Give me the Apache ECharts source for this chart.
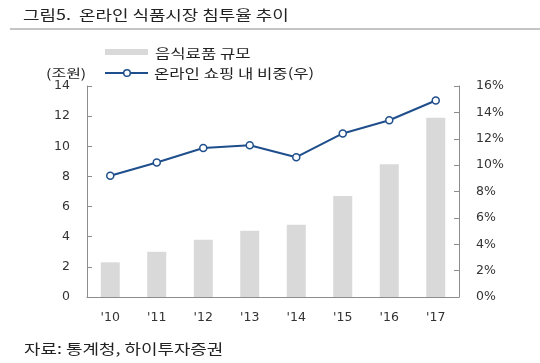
<!DOCTYPE html>
<html><head><meta charset="utf-8">
<script src="https://cdn.jsdelivr.net/npm/echarts@6/dist/echarts.min.js"></script>
<style>html,body{margin:0;padding:0;background:#fff}#c{width:540px;height:363px}</style>
</head><body><div id="c"></div>
<script>
const categories = ["'10","'11","'12","'13","'14","'15","'16","'17"];
const foodMarket = [2.3, 3.0, 3.8, 4.4, 4.8, 6.7, 8.8, 11.9];
const onlineShare = [9.2, 10.2, 11.3, 11.5, 10.6, 12.4, 13.4, 14.9];
const leftTicks = {min: 0, max: 14, interval: 2};
const rightTicks = {min: 0, max: 16, interval: 2};
const seriesNames = ['음식료품 규모', '온라인 쇼핑 내 비중(우)'];
const titleText = '그림5.  온라인 식품시장 침투율 추이';
const sourceText = '자료: 통계청, 하이투자증권';
const unitText = '(조원)';

const kfont = "'Noto Sans CJK KR', 'Noto Sans', sans-serif";
const nfont = "'DejaVu Sans', 'Noto Sans CJK KR', sans-serif";
const axisColor = '#8c8c8c';
const lineColor = '#1f4e8c';
const barColor = '#d9d9d9';
const sx = 1.28;

function label(text, x, y, size, align) {
  return {type: 'text', x: x, y: y, scaleX: sx, silent: true,
    style: {text: text, font: size + 'px ' + kfont, fill: '#222',
      textAlign: align || 'left', textVerticalAlign: 'middle'}};
}

const chart = echarts.init(document.getElementById('c'));
chart.setOption({
  animation: false,
  textStyle: {fontFamily: kfont},
  graphic: [
    label(titleText, 23, 15, 14),
    {type: 'line', shape: {x1: 10, y1: 29, x2: 540, y2: 29}, style: {stroke: '#8a8a8a', lineWidth: 1}},
    label(unitText, 46, 73, 12.5),
    label(sourceText, 24, 349, 14),
    // legend
    {type: 'rect', shape: {x: 105, y: 49, width: 43, height: 6}, style: {fill: barColor}},
    label(seriesNames[0], 155, 53, 13),
    {type: 'line', shape: {x1: 105, y1: 73, x2: 148, y2: 73}, style: {stroke: lineColor, lineWidth: 2}},
    {type: 'circle', shape: {cx: 127, cy: 73, r: 3.3}, style: {fill: '#fff', stroke: lineColor, lineWidth: 1.5}},
    label(seriesNames[1], 154, 73, 13)
  ],
  grid: {left: 87, right: 81, top: 86, bottom: 66},
  xAxis: {
    type: 'category', data: categories, boundaryGap: true,
    axisLine: {lineStyle: {color: axisColor}},
    axisTick: {inside: true, length: 4, lineStyle: {color: axisColor}},
    axisLabel: {color: '#333', fontSize: 12.5, margin: 14, fontFamily: nfont}
  },
  yAxis: [
    {
      type: 'value', min: leftTicks.min, max: leftTicks.max, interval: leftTicks.interval,
      axisLine: {show: true, lineStyle: {color: axisColor}},
      axisTick: {show: true, inside: true, length: 5, lineStyle: {color: axisColor}},
      splitLine: {show: false},
      axisLabel: {color: '#333', fontSize: 12.5, margin: 17, fontFamily: nfont}
    },
    {
      type: 'value', min: rightTicks.min, max: rightTicks.max, interval: rightTicks.interval,
      position: 'right',
      axisLine: {show: true, lineStyle: {color: axisColor}},
      axisTick: {show: true, inside: true, length: 5, lineStyle: {color: axisColor}},
      splitLine: {show: false},
      axisLabel: {color: '#333', fontSize: 12.5, margin: 17, fontFamily: nfont, formatter: '{value}%'}
    }
  ],
  series: [
    {
      name: seriesNames[0], type: 'bar', data: foodMarket, yAxisIndex: 0,
      barWidth: 19, itemStyle: {color: barColor}
    },
    {
      name: seriesNames[1], type: 'line', data: onlineShare, yAxisIndex: 1,
      symbol: 'circle', symbolSize: 7, showAllSymbol: true,
      lineStyle: {color: lineColor, width: 2},
      itemStyle: {color: '#fff', borderColor: lineColor, borderWidth: 1.5}
    }
  ]
});
</script></body></html>
